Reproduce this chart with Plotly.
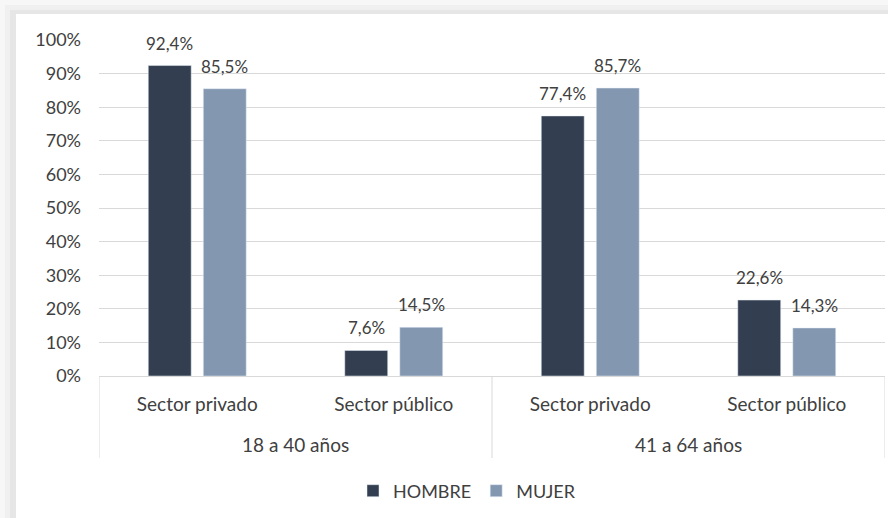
import plotly.graph_objects as go

# data
age_groups = ["18 a 40 años", "18 a 40 años", "41 a 64 años", "41 a 64 años"]
sectors = ["Sector privado", "Sector público", "Sector privado", "Sector público"]
hombre = [0.924, 0.076, 0.774, 0.226]
mujer = [0.855, 0.145, 0.857, 0.143]

W, H = 888, 518
ML, MR, MT, MB = 99, 3, 40, 142
PW, PH = W - ML - MR, H - MT - MB
FONT = "Lato"
TXT = "#404040"
GRID = "#d9d9d9"


def px_x(px):
    return (px - ML) / PW


def px_y(py):
    return (H - MB - py) / PH


pos = list(range(len(sectors)))

fig = go.Figure()
fig.add_trace(go.Bar(x=pos, y=hombre, name="HOMBRE", marker=dict(color="#333f50")))
fig.add_trace(go.Bar(x=pos, y=mujer, name="MUJER", marker=dict(color="#8497b0")))

# value labels above the bars
annotations = []
for series, shift in ((hombre, -27.5), (mujer, 27.5)):
    for p, v in zip(pos, series):
        annotations.append(dict(
            x=p, y=v, xref="x", yref="y", xshift=shift, yshift=10,
            text=f"{v * 100:.1f}%".replace(".", ","), showarrow=False,
            yanchor="bottom", font=dict(family=FONT, size=17, color=TXT)))

# age group labels and dividers of the category axis
groups = list(dict.fromkeys(age_groups))
bounds = [-0.5]
for g in groups:
    idx = [p for p, a in zip(pos, age_groups) if a == g]
    annotations.append(dict(
        x=sum(idx) / len(idx), y=px_y(444), xref="x", yref="paper",
        text=g, showarrow=False, yanchor="middle",
        font=dict(family=FONT, size=19, color=TXT)))
    bounds.append(max(idx) + 0.5)

shapes = []
# panel with a soft shadow round it
for off, c in ((0, "#f7f7f7"), (5, "#f0f0f0"), (10, "#e6e6e6")):
    shapes.append(dict(type="rect", xref="paper", yref="paper", layer="below",
                       x0=px_x(off), x1=px_x(W + 5), y0=px_y(H + 5), y1=px_y(off),
                       fillcolor=c, line=dict(width=0)))
shapes.append(dict(type="rect", xref="paper", yref="paper", layer="below",
                   x0=px_x(16), x1=px_x(W + 5), y0=px_y(H + 5), y1=px_y(14),
                   fillcolor="white", line=dict(width=0)))
for b in bounds:
    shapes.append(dict(type="line", xref="x", yref="paper", x0=b, x1=b,
                       y0=0, y1=px_y(458), line=dict(color=GRID, width=1)))

fig.update_layout(
    width=W, height=H,
    margin=dict(l=ML, r=MR, t=MT, b=MB),
    paper_bgcolor="white", plot_bgcolor="rgba(0,0,0,0)",
    font=dict(family=FONT, size=18, color=TXT),
    barmode="group", bargap=0.44, bargroupgap=0.22,
    shapes=shapes, annotations=annotations,
    showlegend=True,
    legend=dict(orientation="h", x=px_x(467), xanchor="center",
                y=px_y(491), yanchor="middle",
                font=dict(family=FONT, size=18, color=TXT),
                bgcolor="rgba(0,0,0,0)", itemwidth=30),
)
fig.update_yaxes(range=[0, 1], dtick=0.1, tickformat=".0%",
                 gridcolor=GRID, gridwidth=1, zeroline=False,
                 showline=False, ticklabelstandoff=17,
                 tickfont=dict(family=FONT, size=18, color=TXT))
fig.update_xaxes(range=[-0.5, len(pos) - 0.5], tickvals=pos, ticktext=sectors,
                 showline=True, linecolor=GRID, linewidth=1, showgrid=False,
                 ticklabelstandoff=11,
                 tickfont=dict(family=FONT, size=19, color=TXT))

fig.write_html("out.html", config={"displayModeBar": False},
               post_script="document.body.style.margin='0';")
